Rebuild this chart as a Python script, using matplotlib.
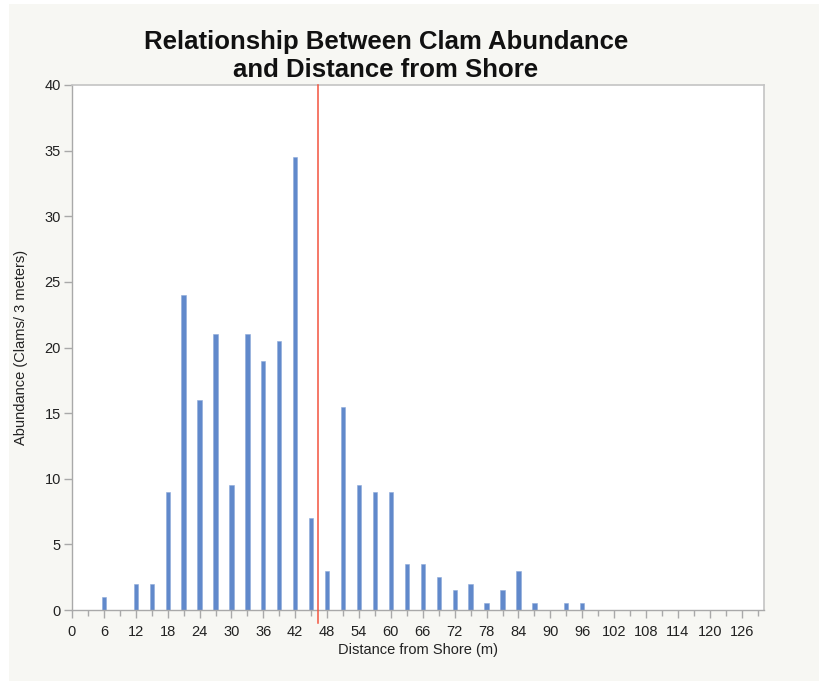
import matplotlib.pyplot as plt
from matplotlib.patches import Rectangle
from matplotlib.ticker import MultipleLocator

plt.rcParams['font.family'] = ['Liberation Sans', 'DejaVu Sans']

# clam counts per 3 m transect segment
distance = [6, 12, 15, 18, 21, 24, 27, 30, 33, 36, 39, 42, 45, 48, 51, 54, 57,
            60, 63, 66, 69, 72, 75, 78, 81, 84, 87, 93, 96]
abundance = [1, 2, 2, 9, 24, 16, 21, 9.5, 21, 19, 20.5, 34.5, 7, 3, 15.5, 9.5, 9,
             9, 3.5, 3.5, 2.5, 1.5, 2, 0.5, 1.5, 3, 0.5, 0.5, 0.5]
mean_distance = 46.3

fig = plt.figure(figsize=(8.2, 6.81), dpi=100, facecolor='white')
fig.patches.append(Rectangle((9 / 820, 0), 1, 1 - 4 / 681, transform=fig.transFigure,
                             facecolor='#f7f7f3', edgecolor='none', zorder=-10))

ax = fig.add_axes([72 / 820, 1 - 610 / 681, (764 - 72) / 820, (610 - 85) / 681])
ax.set_facecolor('white')

ax.bar(distance, abundance, width=0.8, color='#6189cb', edgecolor='#8eaadb',
       linewidth=0.4, zorder=2)
ax.axvline(mean_distance, ymin=-0.025, ymax=1, color='#f2543f', lw=1.1,
           clip_on=False, zorder=3)

ax.set_xlim(0, 130.2)
ax.set_ylim(0, 40)
ax.xaxis.set_major_locator(MultipleLocator(6))
ax.xaxis.set_minor_locator(MultipleLocator(3))
ax.yaxis.set_major_locator(MultipleLocator(5))

for side in ['left', 'bottom']:
    ax.spines[side].set_color('#a9a9a9')
    ax.spines[side].set_linewidth(1.0)
for side in ['top', 'right']:
    ax.spines[side].set_color('#c4c4c4')
    ax.spines[side].set_linewidth(1.2)

ax.tick_params(axis='both', which='major', length=6, width=1, color='#a9a9a9',
               labelsize=10.5, labelcolor='#222222', pad=2)
ax.tick_params(axis='x', which='major', pad=5)
ax.tick_params(axis='x', which='minor', length=4, width=1, color='#a9a9a9')

ax.set_xlabel('Distance from Shore (m)', fontsize=10.5, color='#222222', labelpad=3)
ax.set_ylabel('Abundance (Clams/ 3 meters)', fontsize=10.5, color='#222222', labelpad=12)

fig.text(386 / 820, 1 - 56 / 681, 'Relationship Between Clam Abundance\nand Distance from Shore',
         ha='center', va='center', fontsize=18.5, fontweight='bold', color='#111111',
         linespacing=1.25)

fig.savefig('out.png', dpi=100, facecolor=fig.get_facecolor())
